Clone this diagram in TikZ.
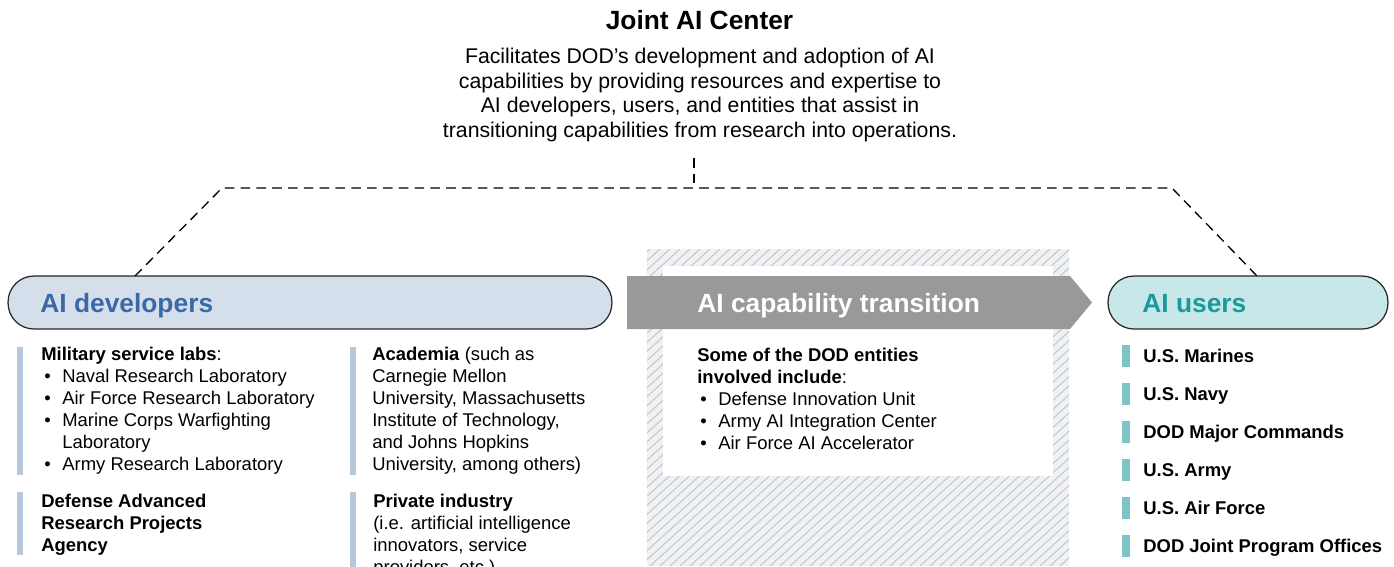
\documentclass[tikz,border=0pt]{standalone}
\usepackage{fontspec}
\setmainfont{Liberation Sans}
\usepackage{xcolor}
\usetikzlibrary{positioning}

\definecolor{devfill}{HTML}{D5DFEB}
\definecolor{devtext}{HTML}{3C69A5}
\definecolor{devbar}{HTML}{B8C8DC}
\definecolor{usersfill}{HTML}{C8E7E8}
\definecolor{userstext}{HTML}{1B9A9B}
\definecolor{usersbar}{HTML}{7CC4C5}
\definecolor{arrowgray}{HTML}{999999}
\definecolor{hatchbg}{HTML}{F1F1F1}
\definecolor{hatchline}{HTML}{B4C3D7}

\newcommand{\bodyfont}{\fontsize{10.5}{12.5}\selectfont}
\newcommand{\bul}{\makebox[0.42cm][l]{\hspace{0.06cm}\textbullet}}

\begin{document}
\begin{tikzpicture}[x=0.02cm, y=-0.02cm,
    pill/.style={draw=black!85, line width=0.7pt, rounded corners=0.52cm,
                 minimum height=1.06cm, inner sep=0pt},
    head/.style={font=\fontsize{15}{18}\selectfont\bfseries, inner sep=0pt},
    body/.style={font=\bodyfont, align=left, inner sep=0pt, anchor=north west},
    link/.style={line width=0.75pt, dash pattern=on 5.5pt off 3.5pt}]
    \useasboundingbox (0,0) rectangle (1394,566);

    % title and description
    \node[head] (title) at (699.5,20) {Joint AI Center};
    \node[font=\fontsize{12.1}{14}\selectfont, align=center, inner sep=0pt] (desc) at (700,95)
        {Facilitates DOD’s development and adoption of AI\\
         capabilities by providing resources and expertise to\\
         AI developers, users, and entities that assist in\\
         transitioning capabilities from research into operations.};

    % hatched area behind the transition
    \fill[hatchbg] (647,249) rectangle (1069,566);
    \begin{scope}
        \clip (647,249) rectangle (1069,566);
        \foreach \a in {300,310,...,1070}
            \draw[hatchline, line width=0.5pt] (\a,566) -- ++(350,-317);
    \end{scope}
    \fill[white] (663,266) rectangle (1053,476);

    % headers
    \node[pill, fill=devfill, minimum width=12.08cm] (dev) at (310,302.5) {};
    \node[head, text=devtext, anchor=base west] (devlabel) at (40,312.5) {AI developers};
    \fill[arrowgray] (627,276) -- (1070,276) -- (1092,302.5) -- (1070,329) -- (627,329) -- cycle;
    \node[head, text=white, anchor=base west] (translabel) at (697,312.5) {AI capability transition};
    \node[pill, fill=usersfill, minimum width=5.6cm] (users) at (1248,302.5) {};
    \node[head, text=userstext, anchor=base west] (userslabel) at (1142,312.5) {AI users};

    % dashed links to the Joint AI Center
    \coordinate (hubtop) at (694,158);
    \coordinate (hub) at (694,188);
    \coordinate (lbend) at (222,188);
    \coordinate (rbend) at (1172,188);
    \coordinate (devtop) at (135,276);
    \coordinate (userstop) at (1257,276);
    \draw[link] (hubtop) -- (hub);
    \draw[link] (devtop) -- (lbend) -- (rbend) -- (userstop);

    % developers
    \fill[devbar] (17,347) rectangle (23,475);
    \fill[devbar] (17,492) rectangle (23,555);
    \fill[devbar] (350,347) rectangle (356,475);
    \fill[devbar] (350,492) rectangle (356,575);
    \node[body] (labs) at (41,347)
        {\textbf{Military service labs}:\\
         \bul Naval Research Laboratory\\
         \bul Air Force Research Laboratory\\
         \bul Marine Corps Warfighting\\
         \hspace*{0.42cm}Laboratory\\
         \bul Army Research Laboratory};
    \node[body] (darpa) at (41,494)
        {\textbf{Defense Advanced}\\ \textbf{Research Projects}\\ \textbf{Agency}};
    \node[body] (academia) at (372,347)
        {\textbf{Academia} (such as\\
         Carnegie Mellon\\
         University, Massachusetts\\
         Institute of Technology,\\
         and Johns Hopkins\\
         University, among others)};
    \node[body] (industry) at (373,494)
        {\textbf{Private industry}\\
         (i.e. artificial intelligence\\
         innovators, service\\
         providers, etc.)};

    % transition entities
    \node[body] (entities) at (697,348)
        {\textbf{Some of the DOD entities}\\
         \textbf{involved include}:\\
         \bul Defense Innovation Unit\\
         \bul Army AI Integration Center\\
         \bul Air Force AI Accelerator};

    % users
    \foreach[count=\i] \name in {U.S. Marines, U.S. Navy, DOD Major Commands,
                                 U.S. Army, U.S. Air Force, DOD Joint Program Offices} {
        \fill[usersbar] (1122,{356+38*(\i-1)-11}) rectangle ++(8,22);
        \node[font=\bodyfont\bfseries, anchor=base west, inner sep=0pt] (user\i)
            at (1143,{356+38*(\i-1)+6.5}) {\name};
    }
\end{tikzpicture}
\end{document}
